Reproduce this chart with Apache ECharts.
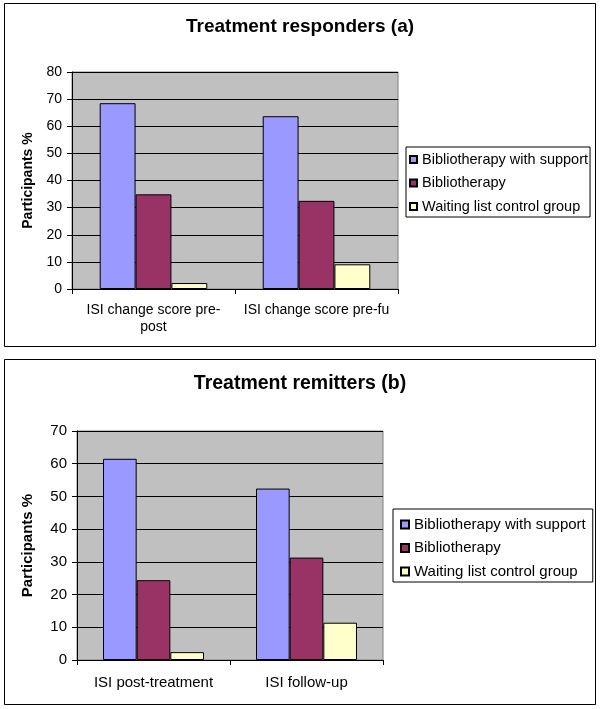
<!DOCTYPE html>
<html>
<head>
<meta charset="utf-8">
<script src="https://cdn.jsdelivr.net/npm/echarts@6/dist/echarts.min.js"></script>
<style>
  html, body { margin: 0; padding: 0; background: #fff; }
  #chart { width: 600px; height: 709px; }
</style>
</head>
<body>
<div id="chart"></div>
<script>
// ---- Data ----
const seriesNames = ['Bibliotherapy with support', 'Bibliotherapy', 'Waiting list control group'];

const responderCategories = ['ISI change score pre-post', 'ISI change score pre-fu'];
const responderWithSupport = [68.5, 63.7];
const responderBibliotherapy = [34.9, 32.5];
const responderWaitingList = [2.2, 9.1];

const remitterCategories = ['ISI post-treatment', 'ISI follow-up'];
const remitterWithSupport = [61.5, 52.4];
const remitterBibliotherapy = [24.4, 31.3];
const remitterWaitingList = [2.4, 11.4];

const responderTicks = { min: 0, max: 80, interval: 10 };
const remitterTicks = { min: 0, max: 70, interval: 10 };

// ---- Styles ----
const FONT = 'Arial, "Liberation Sans", sans-serif';
const colors = ['#9999FF', '#993366', '#FFFFCC'];

const chart = echarts.init(document.getElementById('chart'), null, { renderer: 'canvas' });

function barSeries(name, data, idx, axisIdx) {
  return {
    name: name,
    type: 'bar',
    xAxisIndex: axisIdx,
    yAxisIndex: axisIdx,
    data: data,
    barGap: '0%',
    barCategoryGap: '34%',
    itemStyle: { color: colors[idx], borderColor: '#000', borderWidth: 1 },
    emphasis: { disabled: true },
    animation: false
  };
}

function yAxisDef(gridIndex, ticks, fontSize, nameGap) {
  return {
    type: 'value',
    gridIndex: gridIndex,
    min: ticks.min,
    max: ticks.max,
    interval: ticks.interval,
    name: 'Participants %',
    nameLocation: 'middle',
    nameGap: nameGap,
    nameTextStyle: { fontFamily: FONT, fontSize: fontSize, fontWeight: 'bold', color: '#000' },
    axisLine: { show: true, lineStyle: { color: '#000', width: 1 } },
    axisTick: { show: true, length: 5, inside: false, lineStyle: { color: '#000' } },
    axisLabel: { fontFamily: FONT, fontSize: fontSize, color: '#000', margin: 10 },
    splitLine: { show: true, lineStyle: { color: '#000', width: 1 } }
  };
}

function xAxisDef(gridIndex, cats, fontSize, margin) {
  return {
    type: 'category',
    gridIndex: gridIndex,
    data: cats,
    axisLine: { show: true, lineStyle: { color: '#000', width: 1 } },
    axisTick: { show: true, length: 5, alignWithLabel: false, lineStyle: { color: '#000' } },
    axisLabel: {
      fontFamily: FONT, fontSize: fontSize, color: '#000', margin: margin, lineHeight: 17,
      interval: 0,
      formatter: function (v) { return v.replace('pre-post', 'pre-\npost'); }
    },
    splitLine: { show: false }
  };
}

function legendDef(left, top, fontSize, itemGap, padding, markerSize) {
  return {
    orient: 'vertical',
    left: left,
    top: top,
    data: seriesNames,
    icon: 'rect',
    itemWidth: markerSize,
    itemHeight: markerSize,
    itemGap: itemGap,
    padding: padding,
    backgroundColor: '#fff',
    borderColor: '#000',
    borderWidth: 1,
    borderRadius: 0,
    selectedMode: false,
    textStyle: { fontFamily: FONT, fontSize: fontSize, color: '#000' }
  };
}

const option = {
  backgroundColor: '#fff',
  animation: false,
  graphic: [
    { type: 'rect', silent: true, z: -10, shape: { x: 4.5, y: 3.5, width: 591, height: 343 },
      style: { fill: '#fff', stroke: '#000', lineWidth: 1 } },
    { type: 'rect', silent: true, z: -10, shape: { x: 4.5, y: 359.5, width: 591, height: 345 },
      style: { fill: '#fff', stroke: '#000', lineWidth: 1 } }
  ],
  title: [
    { text: 'Treatment responders (a)', left: 'center', top: 17, padding: 0,
      textStyle: { fontFamily: FONT, fontSize: 19, fontWeight: 'bold', color: '#000' } },
    { text: 'Treatment remitters (b)', left: 'center', top: 374, padding: 0,
      textStyle: { fontFamily: FONT, fontSize: 19.5, fontWeight: 'bold', color: '#000' } }
  ],
  legend: [
    legendDef(406, 147, 14.5, 8.5, [5, 2, 3, 3], 7),
    legendDef(393, 509, 15, 8.5, [8, 7, 3, 7], 8)
  ],
  grid: [
    { left: 72, right: 202, top: 72, bottom: 420, show: true,
      backgroundColor: '#C0C0C0', borderColor: '#808080', borderWidth: 1 },
    { left: 77, right: 217, top: 431, bottom: 49, show: true,
      backgroundColor: '#C0C0C0', borderColor: '#808080', borderWidth: 1 }
  ],
  xAxis: [
    xAxisDef(0, responderCategories, 14, 13),
    xAxisDef(1, remitterCategories, 15, 14)
  ],
  yAxis: [
    yAxisDef(0, responderTicks, 14, 37),
    yAxisDef(1, remitterTicks, 15, 42)
  ],
  series: [
    barSeries(seriesNames[0], responderWithSupport, 0, 0),
    barSeries(seriesNames[1], responderBibliotherapy, 1, 0),
    barSeries(seriesNames[2], responderWaitingList, 2, 0),
    barSeries(seriesNames[0], remitterWithSupport, 0, 1),
    barSeries(seriesNames[1], remitterBibliotherapy, 1, 1),
    barSeries(seriesNames[2], remitterWaitingList, 2, 1)
  ]
};

chart.setOption(option);
</script>
</body>
</html>
